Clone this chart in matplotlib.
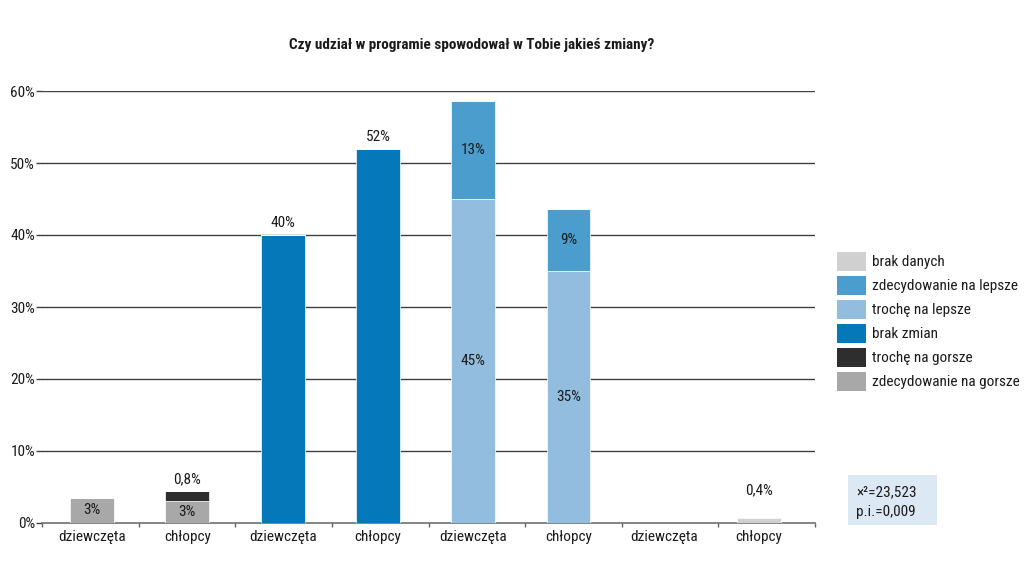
import matplotlib
matplotlib.use("Agg")
import matplotlib.pyplot as plt
from matplotlib import font_manager
from matplotlib.patches import Rectangle
import numpy as np

# ---- data ----
categories = ["dziewczęta", "chłopcy", "dziewczęta", "chłopcy",
              "dziewczęta", "chłopcy", "dziewczęta", "chłopcy"]
series_names = ["zdecydowanie na gorsze", "trochę na gorsze", "brak zmian",
                "trochę na lepsze", "zdecydowanie na lepsze", "brak danych"]
zdec_gorsze = [3.5, 3.1, 0, 0, 0, 0, 0, 0]
troche_gorsze = [0, 1.4, 0, 0, 0, 0, 0, 0]
brak_zmian = [0, 0, 40, 52, 0, 0, 0, 0]
troche_lepsze = [0, 0, 0, 0, 45, 35, 0, 0]
zdec_lepsze = [0, 0, 0, 0, 13.6, 8.6, 0, 0]
brak_danych = [0, 0, 0, 0, 0, 0, 0, 0.65]

lbl_zdec_gorsze = ["3%", "3%", "", "", "", "", "", ""]
lbl_troche_lepsze = ["", "", "", "", "45%", "35%", "", ""]
lbl_zdec_lepsze = ["", "", "", "", "13%", "9%", "", ""]
top_labels = ["", "0,8%", "40%", "52%", "", "", "", "0,4%"]

yticks = [0, 10, 20, 30, 40, 50, 60]
ytick_labels = ["0%", "10%", "20%", "30%", "40%", "50%", "60%"]
title = "Czy udział w programie spowodował w Tobie jakieś zmiany?"
stat_text = "×²=23,523\np.i.=0,009"

colors = ["#a8a8a8", "#2e2e2e", "#0478b8", "#92bddf", "#4b9dcd", "#d0d0d0"]

# ---- font ----
avail = {f.name for f in font_manager.fontManager.ttflist}
fam = "DejaVu Sans"
for cand in ["Roboto Condensed", "Liberation Sans Narrow", "Open Sans Condensed", "Noto Sans Condensed"]:
    if cand in avail:
        fam = cand
        break
plt.rcParams["font.family"] = [fam, "DejaVu Sans"]
fs = 11
tc = "#1a1a1a"

W, H = 1024, 575
fig = plt.figure(figsize=(W / 100, H / 100), dpi=100)
ax = fig.add_axes([42 / W, 1 - 523 / H, (815 - 42) / W, (523 - 91) / H])

x = np.arange(len(categories))
width = 0.46
series = [zdec_gorsze, troche_gorsze, brak_zmian, troche_lepsze, zdec_lepsze, brak_danych]
seg_labels = [lbl_zdec_gorsze, None, None, lbl_troche_lepsze, lbl_zdec_lepsze, None]
bottom = np.zeros(len(categories))
for vals, col, name, lbls in zip(series, colors, series_names, seg_labels):
    v = np.array(vals, dtype=float)
    ax.bar(x, v, width, bottom=bottom, color=col, edgecolor="white",
           linewidth=0.5, zorder=3, label=name)
    if lbls is not None:
        for xi, b, h, t in zip(x, bottom, v, lbls):
            if t:
                ax.text(xi, b + h / 2, t, ha="center", va="center",
                        fontsize=fs, color=tc, zorder=4)
    bottom = bottom + v

for xi, top, t in zip(x, bottom, top_labels):
    if t:
        ax.text(xi, max(top, 3.0) + 1.6, t, ha="center", va="center",
                fontsize=fs, color=tc, zorder=4)

xl = (-0.525, 7.587)
ax.set_xlim(*xl)
ax.set_ylim(0, 60)
ax.set_yticks(yticks)
ax.set_yticklabels(ytick_labels, fontsize=fs, color=tc)
ax.set_xticks(x)
ax.set_xticklabels(categories, fontsize=fs, color=tc)
ax.set_xticks(np.linspace(xl[0], xl[1], len(categories) + 1), minor=True)
ax.tick_params(axis="x", which="major", length=0, pad=5)
ax.tick_params(axis="x", which="minor", length=3, width=1, color="#606060")
ax.tick_params(axis="y", length=4, width=1, color="#404040", pad=1)
for s in ["top", "right", "left"]:
    ax.spines[s].set_visible(False)
ax.spines["bottom"].set_color("#707070")
ax.spines["bottom"].set_linewidth(1.2)
for yv in yticks[1:]:
    ax.axhline(yv, color="#404040", linewidth=1, zorder=1)

fig.text(472 / W, 1 - 45 / H, title, ha="center", va="center",
         fontsize=fs, fontweight="bold", color=tc)

# legend (drawn manually, top to bottom)
leg_names = series_names[::-1]
leg_colors = colors[::-1]
for i, (nm, c) in enumerate(zip(leg_names, leg_colors)):
    top = 252 + 24 * i
    fig.patches.append(Rectangle((837 / W, 1 - (top + 19) / H), 29 / W, 19 / H,
                                 transform=fig.transFigure, facecolor=c,
                                 edgecolor="none"))
    fig.text(872 / W, 1 - (top + 10) / H, nm, ha="left", va="center",
             fontsize=fs, color=tc)

fig.patches.append(Rectangle((848 / W, 1 - 525 / H), 89 / W, 50 / H,
                             transform=fig.transFigure, facecolor="#dce9f4",
                             edgecolor="none", zorder=0))
fig.text(856 / W, 1 - 502 / H, stat_text, ha="left", va="center",
         fontsize=fs, color=tc, linespacing=1.5)

fig.savefig("out.png", dpi=100)
